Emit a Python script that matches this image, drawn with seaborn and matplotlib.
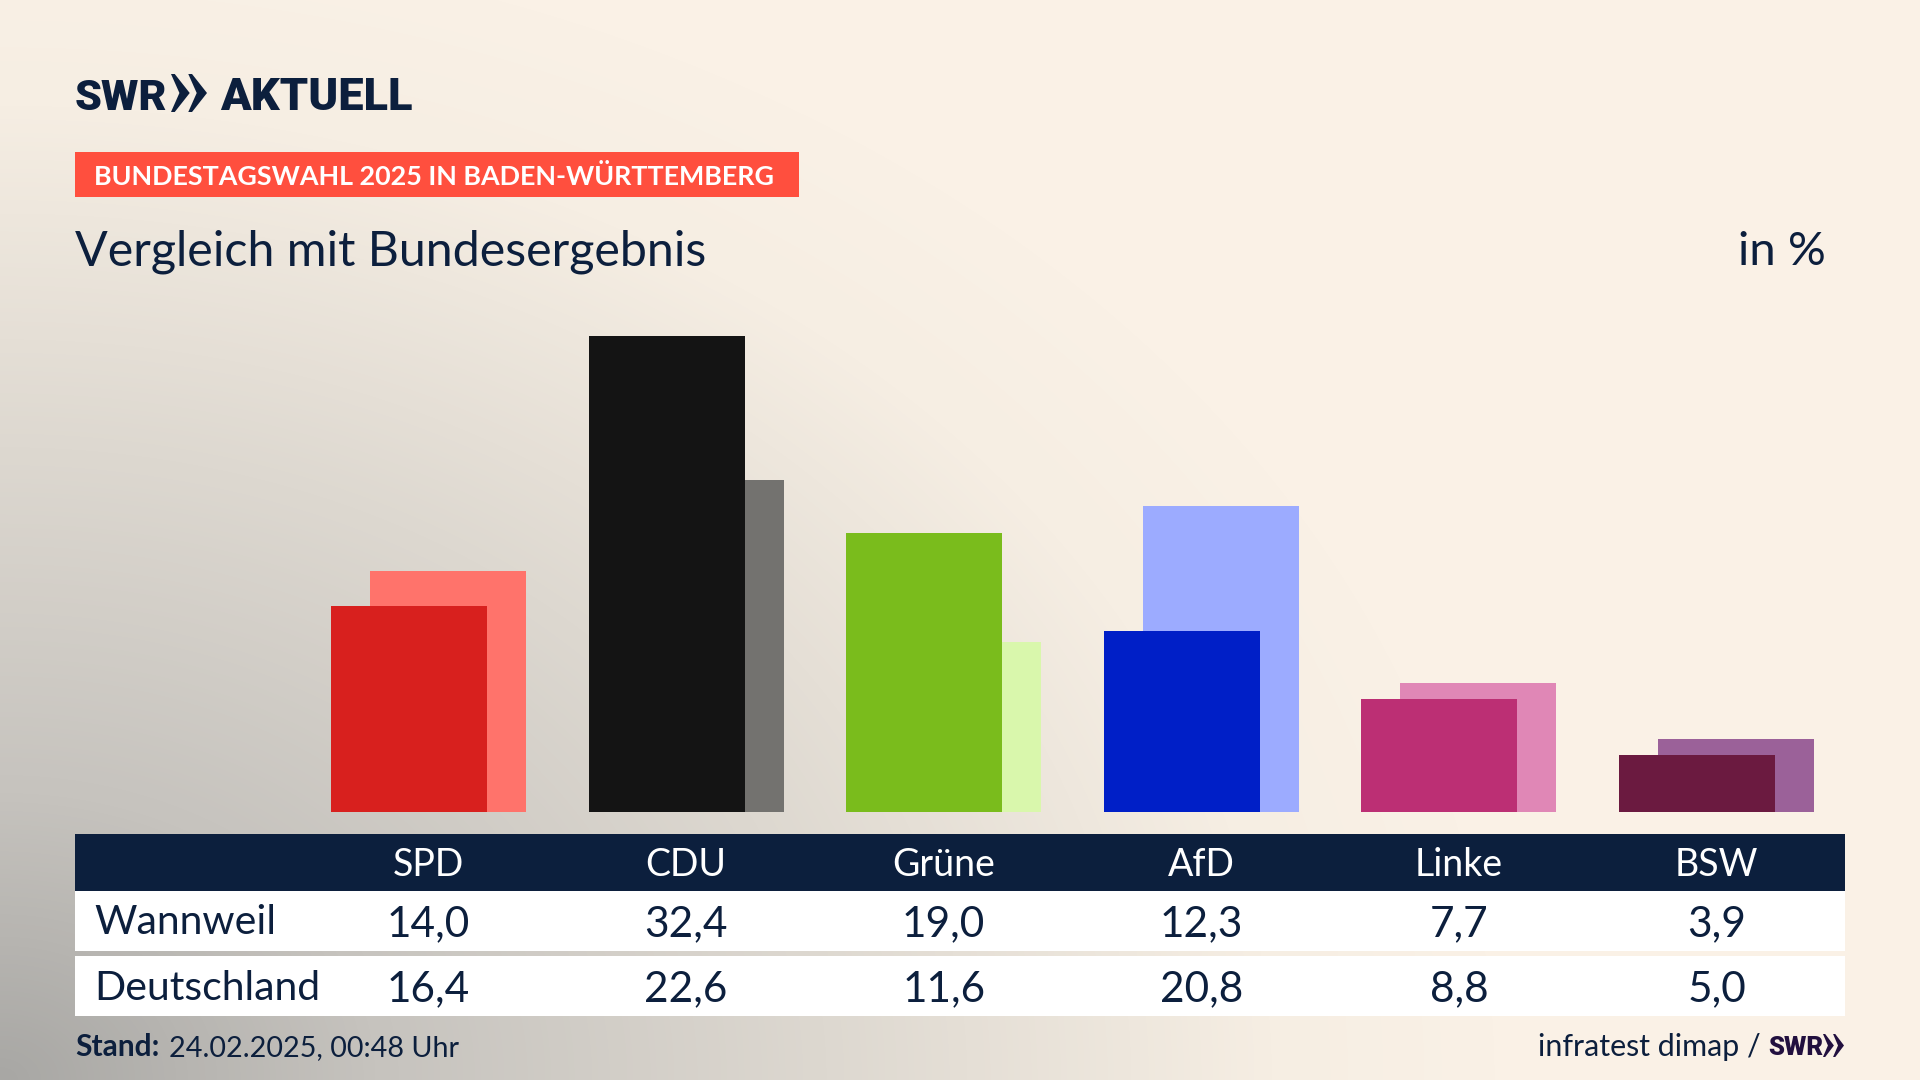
import numpy as np
import pandas as pd
import seaborn as sns
from matplotlib import pyplot as plt
from matplotlib.colors import LinearSegmentedColormap
from matplotlib.patches import Polygon, Rectangle

parties = ['SPD', 'CDU', 'Grüne', 'AfD', 'Linke', 'BSW']
wannweil = [14.0, 32.4, 19.0, 12.3, 7.7, 3.9]
deutschland = [16.4, 22.6, 11.6, 20.8, 8.8, 5.0]
dark_colors = ['#D8201E', '#141414', '#7ABC1C', '#001FC7', '#BC2F74', '#6B1A40']
light_colors = ['#FF736B', '#73726F', '#D9F7AC', '#9CABFF', '#E087B6', '#9B6199']
row_labels = ['Wannweil', 'Deutschland']

NAVY = '#0C1F3D'
FONT = 'Lato'

sns.set_theme(style='white')
plt.rcParams['font.family'] = [FONT, 'DejaVu Sans']

fig = plt.figure(figsize=(19.2, 10.8), dpi=100)

# background, grey glow from the lower left corner
bg = fig.add_axes([0, 0, 1, 1], zorder=0)
yy, xx = np.mgrid[0:1080, 0:1920]
glow = np.clip(np.sqrt((xx / 1500) ** 2 + ((1080 - yy) / 1150) ** 2), 0, 1)
bg_cmap = LinearSegmentedColormap.from_list(
    'glow', [(0, '#A8A7A4'), (0.25, '#C6C3BE'), (0.55, '#DDD8D0'), (0.85, '#F6EEE3'), (1, '#FAF1E6')])
bg.imshow(glow, cmap=bg_cmap, vmin=0, vmax=1, aspect='auto')
bg.axis('off')

# bars, 1920 px figure: baseline at y=812, one group every 257.6 px
bar_ax = fig.add_axes([75 / 1920, (1080 - 812) / 1080, 1770 / 1920, 512 / 1080], zorder=1)
bar_ax.patch.set_alpha(0)
df = pd.DataFrame({'party': parties, 'pos': range(len(parties)),
                   'wannweil': wannweil, 'deutschland': deutschland})
offset = 0.0757
sns.barplot(data=df.assign(x=df['pos'] + offset), x='x', y='deutschland', hue='party',
            palette=light_colors, dodge=False, native_scale=True, width=0.606,
            legend=False, saturation=1, linewidth=0, ax=bar_ax)
sns.barplot(data=df.assign(x=df['pos'] - offset), x='x', y='wannweil', hue='party',
            palette=dark_colors, dodge=False, native_scale=True, width=0.606,
            legend=False, saturation=1, linewidth=0, ax=bar_ax)
bar_ax.set_xlim((75 - 428.5) / 257.6, (1845 - 428.5) / 257.6)
bar_ax.set_ylim(0, 512 / 14.69)
bar_ax.axis('off')

# everything else in pixel coordinates
ov = fig.add_axes([0, 0, 1, 1], zorder=2)
ov.set_xlim(0, 1920)
ov.set_ylim(1080, 0)
ov.axis('off')
ov.patch.set_alpha(0)


def chevrons(x, top, bottom, width, color):
    mid = (top + bottom) / 2
    w = width * 0.52
    for dx in (0, width * 0.48):
        ov.add_patch(Polygon([(x + dx, top), (x + dx + w * 0.2, top), (x + dx + w, mid),
                              (x + dx + w * 0.2, bottom), (x + dx, bottom),
                              (x + dx + w * 0.45, mid)], color=color, lw=0))


# logo
ov.text(75, 110, 'SWR', fontsize=31, fontweight='black', family='Roboto', color=NAVY)
chevrons(171, 74, 112, 36, NAVY)
ov.text(220, 110, 'AKTUELL', fontsize=32.5, fontweight='black', family='Roboto', color=NAVY)

# banner and title
ov.add_patch(Rectangle((75, 152), 724, 45, color='#FF4F3E', lw=0))
ov.text(94, 185, 'BUNDESTAGSWAHL 2025 IN BADEN-WÜRTTEMBERG', fontsize=19.4, fontweight='bold', color='white')
ov.text(75, 265, 'Vergleich mit Bundesergebnis', fontsize=34.8, color=NAVY)
ov.text(1826, 265, 'in %', fontsize=34, color=NAVY, ha='right')

# table
ov.add_patch(Rectangle((75, 834), 1770, 57, color=NAVY, lw=0))
ov.add_patch(Rectangle((75, 891), 1770, 60, color='white', lw=0))
ov.add_patch(Rectangle((75, 956), 1770, 60, color='white', lw=0))
for i, party in enumerate(parties):
    cx = 428.5 + i * 257.6
    ov.text(cx, 876, party, fontsize=27, color='white', ha='center')
    ov.text(cx, 936, f'{wannweil[i]:.1f}'.replace('.', ','), fontsize=30.5, color=NAVY, ha='center')
    ov.text(cx, 1001, f'{deutschland[i]:.1f}'.replace('.', ','), fontsize=30.5, color=NAVY, ha='center')
ov.text(94, 934, row_labels[0], fontsize=29.5, color=NAVY)
ov.text(94, 1000, row_labels[1], fontsize=29.5, color=NAVY)

# footer
ov.text(75, 1056, 'Stand:', fontsize=21.5, fontweight='bold', color=NAVY)
ov.text(169, 1056, '24.02.2025, 00:48 Uhr', fontsize=20.7, color=NAVY)
ov.text(1761, 1056, 'infratest dimap /', fontsize=21.9, color=NAVY, ha='right')
ov.text(1768, 1055, 'SWR', fontsize=18.5, fontweight='black', family='Roboto', color='#22103F')
chevrons(1823, 1034, 1057, 21, '#22103F')

fig.savefig('out.png', dpi=100)
